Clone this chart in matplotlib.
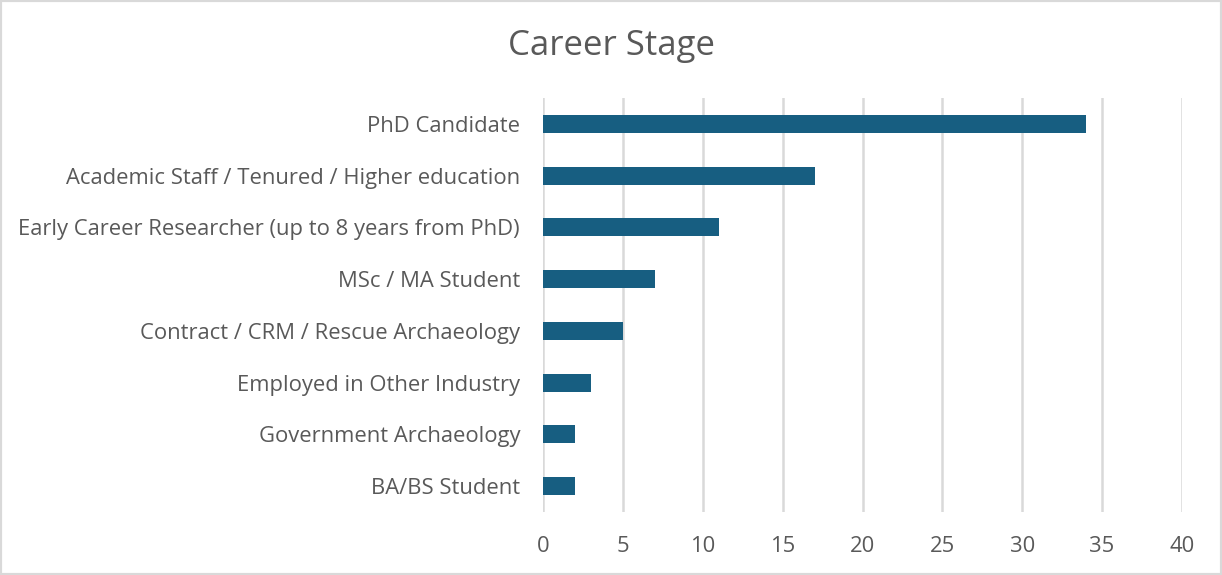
import matplotlib
matplotlib.use("Agg")
import matplotlib.pyplot as plt
from matplotlib.patches import Rectangle

categories = [
    "PhD Candidate",
    "Academic Staff / Tenured / Higher education",
    "Early Career Researcher (up to 8 years from PhD)",
    "MSc / MA Student",
    "Contract / CRM / Rescue Archaeology",
    "Employed in Other Industry",
    "Government Archaeology",
    "BA/BS Student",
]
values = [34, 17, 11, 7, 5, 3, 2, 2]
xticks = [0, 5, 10, 15, 20, 25, 30, 35, 40]

W, H = 1222, 575
fig = plt.figure(figsize=(W / 100, H / 100), dpi=100)
plt.rcParams['font.family'] = ['Open Sans', 'DejaVu Sans']
txt = "#595959"

ax = fig.add_axes([543 / W, 1 - 512 / H, (1182 - 543) / W, (512 - 98) / H])
y = list(range(len(categories)))[::-1]
ax.barh(y, values, height=0.35, color="#175E81", zorder=3)
ax.set_xlim(0, 40)
ax.set_ylim(-0.5, len(categories) - 0.5)
ax.set_xticks(xticks)
ax.set_xticklabels([str(t) for t in xticks], fontsize=15.8, color=txt)
ax.set_yticks(y)
ax.set_yticklabels(categories, fontsize=15.8, color=txt)
ax.tick_params(axis="both", length=0)
ax.tick_params(axis="y", pad=16.5)
ax.tick_params(axis="x", pad=17)
ax.grid(axis="x", color="#d9d9d9", linewidth=1.8, zorder=0)
for s in ax.spines.values():
    s.set_visible(False)

fig.text(0.5, 1 - 46 / H, "Career Stage", ha="center", va="center", fontsize=25, color=txt)
fig.patches.append(Rectangle((0, 0), 1, 1, transform=fig.transFigure, fill=False,
                             edgecolor="#d9d9d9", linewidth=3, zorder=10))

fig.savefig("out.png", dpi=100, facecolor="white")
